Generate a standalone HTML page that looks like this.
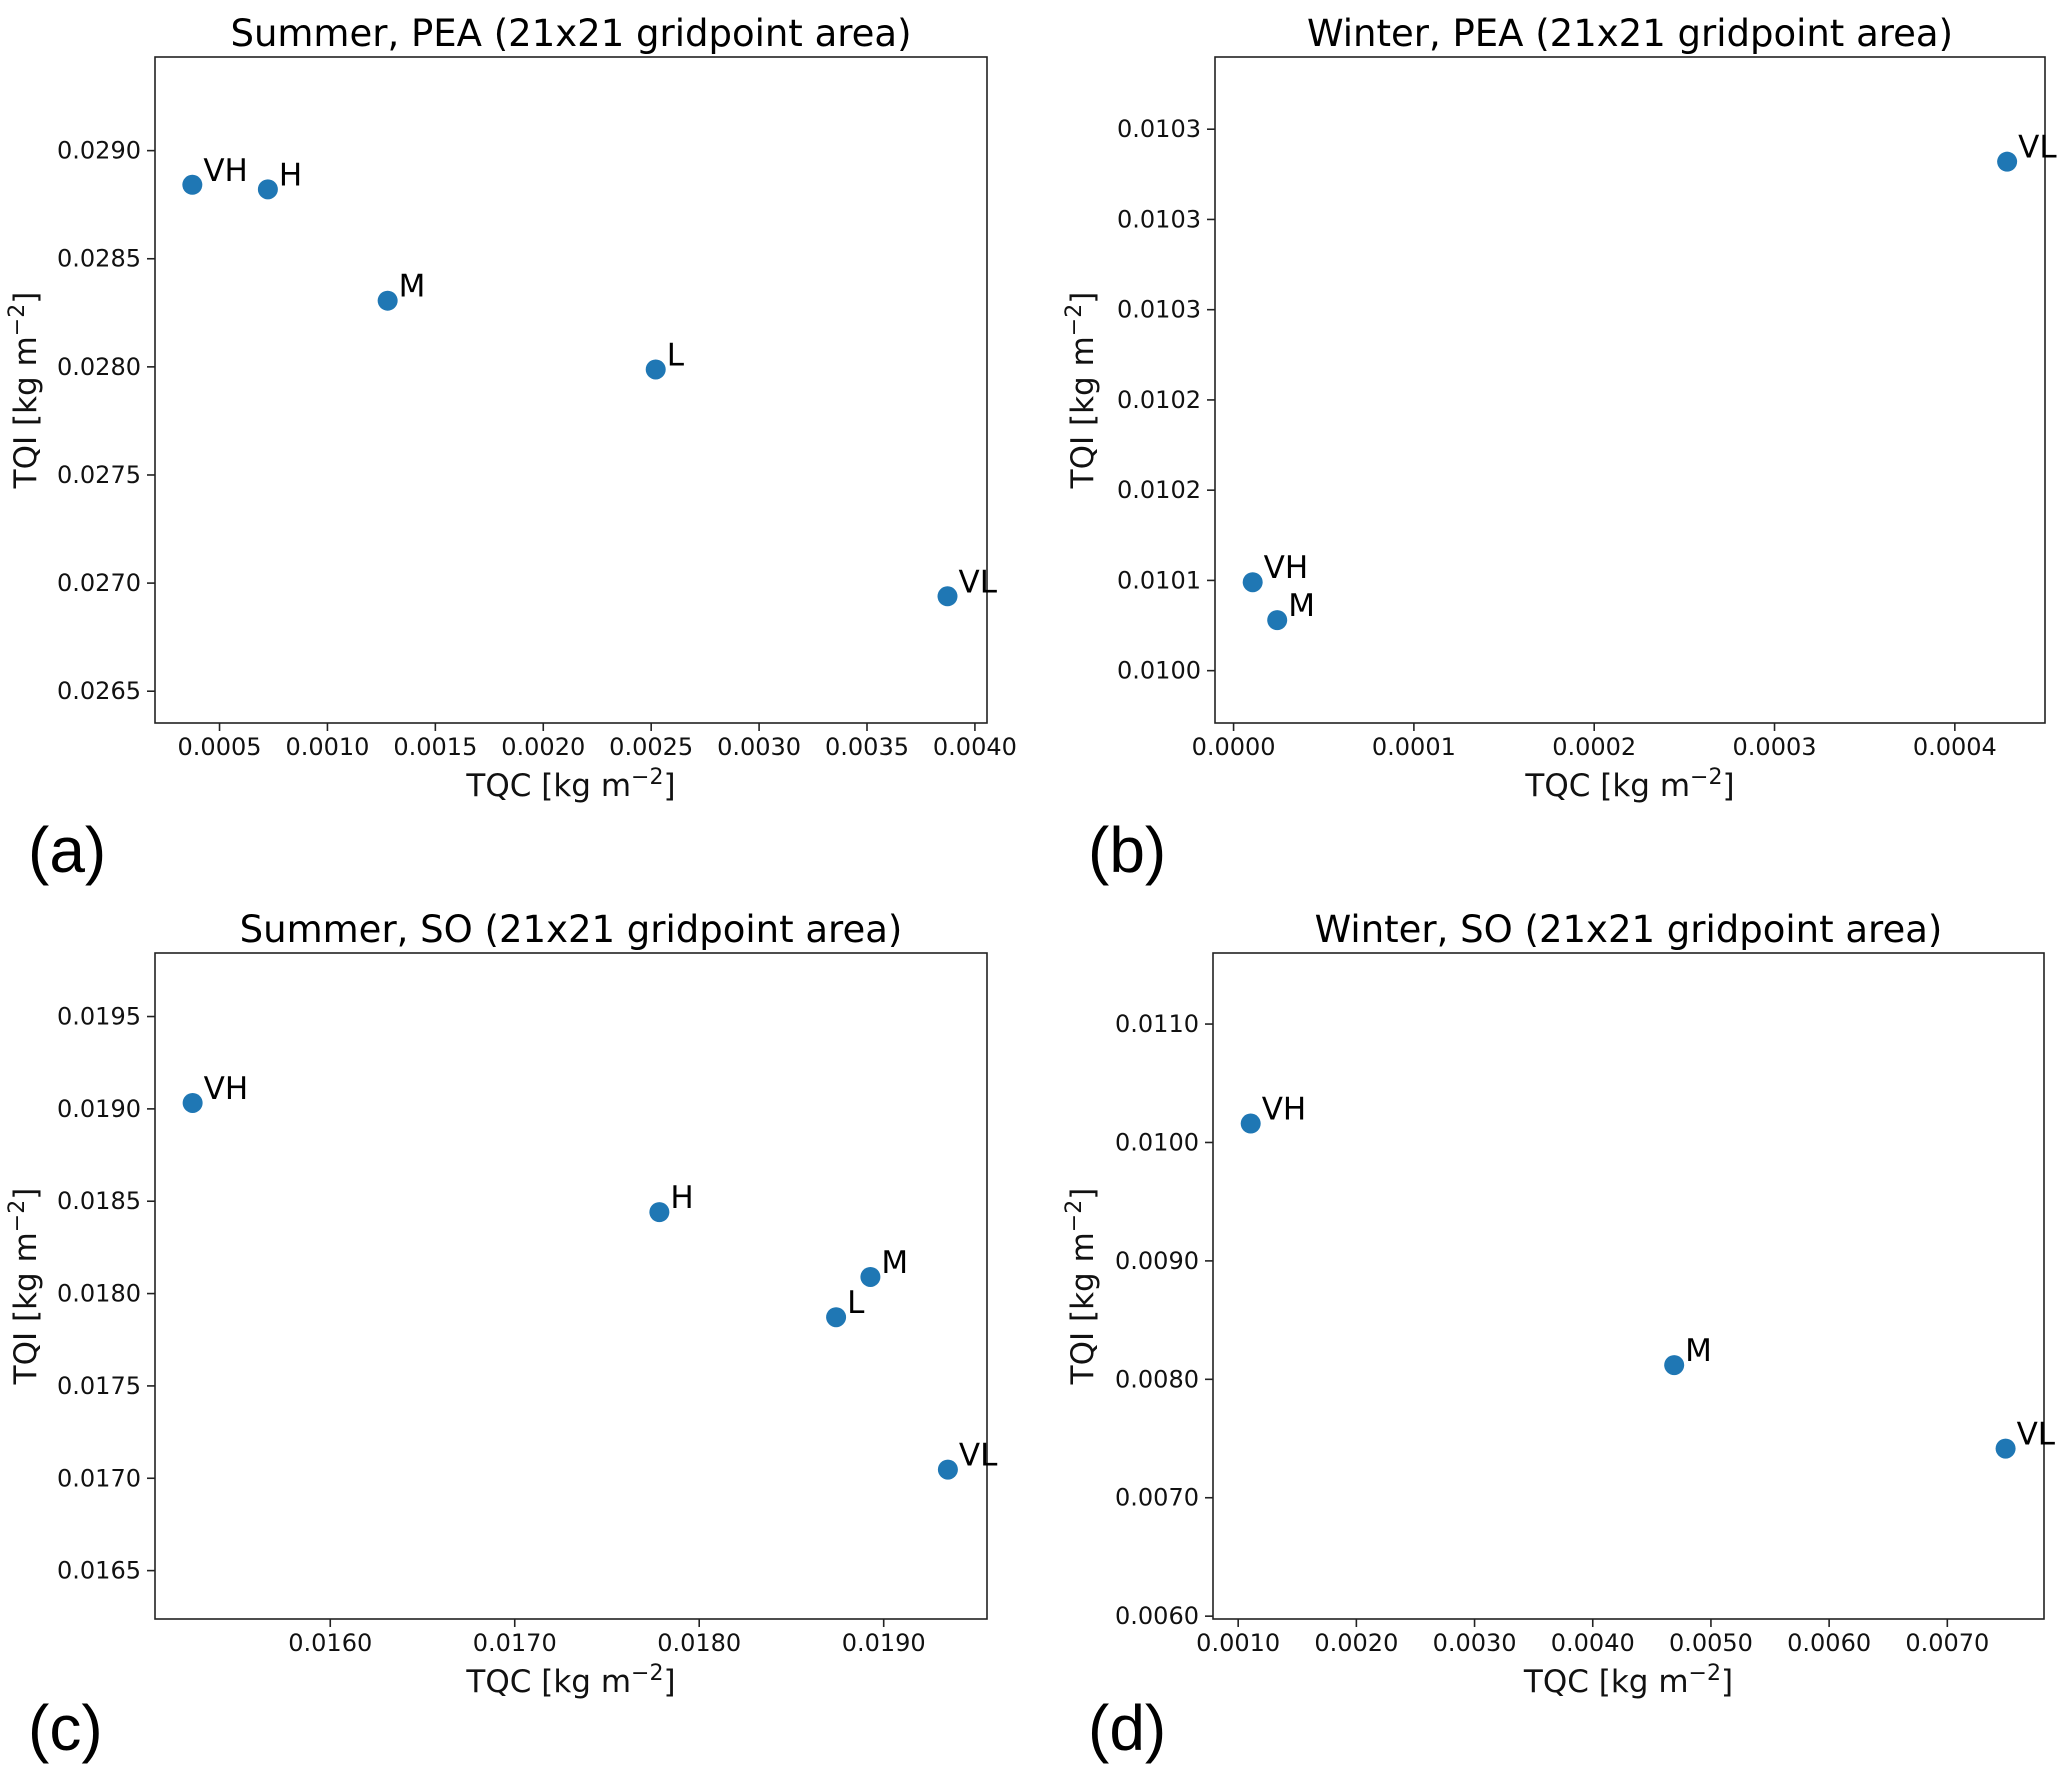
<!DOCTYPE html>
<html><head><meta charset="utf-8"><style>
html,body{margin:0;padding:0;background:#fff;}
svg{display:block;font-family:"DejaVu Sans","Liberation Sans",sans-serif;}
</style></head><body>
<svg id="fig" width="2067" height="1772" viewBox="0 0 2067 1772" xmlns="http://www.w3.org/2000/svg"></svg>
<script>
// ---- data ----
const aLabels = ["VH","H","M","L","VL"];
const aX = [0.000374,0.000724,0.001279,0.002521,0.003873];
const aY = [0.028842,0.028821,0.028306,0.027988,0.026939];
const aXTicks = [0.0005,0.0010,0.0015,0.0020,0.0025,0.0030,0.0035,0.0040];
const aXTickLabels = ["0.0005","0.0010","0.0015","0.0020","0.0025","0.0030","0.0035","0.0040"];
const aYTicks = [0.0265,0.0270,0.0275,0.0280,0.0285,0.0290];
const aYTickLabels = ["0.0265","0.0270","0.0275","0.0280","0.0285","0.0290"];
const aXLim = [0.000201,0.004056];
const aYLim = [0.026353,0.029433];

const bLabels = ["VH","M","VL"];
const bX = [0.0000106,0.0000242,0.000429];
const bY = [0.010049,0.010028,0.010282];
const bXTicks = [0,0.0001,0.0002,0.0003,0.0004];
const bXTickLabels = ["0.0000","0.0001","0.0002","0.0003","0.0004"];
const bYTicks = [0.01000,0.01005,0.01010,0.01015,0.01020,0.01025,0.01030];
const bYTickLabels = ["0.0100","0.0101","0.0102","0.0102","0.0103","0.0103","0.0103"];
const bXLim = [-0.0000103,0.00045];
const bYLim = [0.009971,0.010340];

const cLabels = ["VH","H","M","L","VL"];
const cX = [0.015254,0.017784,0.018928,0.018742,0.019348];
const cY = [0.019032,0.018441,0.018090,0.017872,0.017047];
const cXTicks = [0.016,0.017,0.018,0.019];
const cXTickLabels = ["0.0160","0.0170","0.0180","0.0190"];
const cYTicks = [0.0165,0.0170,0.0175,0.0180,0.0185,0.0190,0.0195];
const cYTickLabels = ["0.0165","0.0170","0.0175","0.0180","0.0185","0.0190","0.0195"];
const cXLim = [0.015050,0.019560];
const cYLim = [0.016238,0.019844];

const dLabels = ["VH","M","VL"];
const dX = [0.001106,0.004689,0.007493];
const dY = [0.010160,0.008120,0.007415];
const dXTicks = [0.001,0.002,0.003,0.004,0.005,0.006,0.007];
const dXTickLabels = ["0.0010","0.0020","0.0030","0.0040","0.0050","0.0060","0.0070"];
const dYTicks = [0.006,0.007,0.008,0.009,0.010,0.011];
const dYTickLabels = ["0.0060","0.0070","0.0080","0.0090","0.0100","0.0110"];
const dXLim = [0.000787,0.007818];
const dYLim = [0.005976,0.0116];

const NS = "http://www.w3.org/2000/svg";
const svg = document.getElementById("fig");
function mk(tag, attrs, parent){
  const e = document.createElementNS(NS, tag);
  for (const k in attrs) e.setAttribute(k, attrs[k]);
  (parent||svg).appendChild(e);
  return e;
}

function panel(id, box, title, letter, letterPos, ylabX, labels, xs, ys, xt, xtl, yt, ytl, xlim, ylim){
  const g = mk("g", {});
  
  
  const L=box[0], T=box[1], R=box[2], B=box[3];
  const sx = v => L + (v - xlim[0])/(xlim[1]-xlim[0])*(R-L);
  const sy = v => B - (v - ylim[0])/(ylim[1]-ylim[0])*(B-T);
  const t = mk("text", {x:(L+R)/2, y:T-11, "font-size":37, "text-anchor":"middle", fill:"#000"}, g);
  t.textContent = title;
  
  
  const frame = mk("rect", {x:L, y:T, width:R-L, height:B-T, fill:"none", stroke:"#222", "stroke-width":1.6}, g);
  
  
  for (let i=0;i<xt.length;i++){
    const x = sx(xt[i]);
    const tk = mk("line", {x1:x, x2:x, y1:B, y2:B+8, stroke:"#222", "stroke-width":1.6}, g);
    
    
    const tl = mk("text", {x:x, y:B+32, "font-size":24, "text-anchor":"middle", fill:"#111"}, g);
    tl.textContent = xtl[i];
    
    
  }
  for (let i=0;i<yt.length;i++){
    const y = sy(yt[i]);
    const tk = mk("line", {x1:L-8, x2:L, y1:y, y2:y, stroke:"#222", "stroke-width":1.6}, g);
    
    
    const tl = mk("text", {x:L-14, y:y+8, "font-size":24, "text-anchor":"end", fill:"#111"}, g);
    tl.textContent = ytl[i];
    
    
  }
  const xl = mk("text", {x:(L+R)/2, y:B+73, "font-size":31, "text-anchor":"middle", fill:"#111"}, g);
  xl.innerHTML = 'TQC [kg m<tspan dy="-12" font-size="22">−2</tspan><tspan dy="12">]</tspan>';
  
  
  const cy = (T+B)/2;
  const yl = mk("text", {x:0, y:0, "font-size":31, "text-anchor":"middle", fill:"#111", transform:"translate("+ylabX+","+cy+") rotate(-90)"}, g);
  yl.innerHTML = 'TQI [kg m<tspan dy="-12" font-size="22">−2</tspan><tspan dy="12">]</tspan>';
  
  
  for (let i=0;i<xs.length;i++){
    const px = sx(xs[i]), py = sy(ys[i]);
    const c = mk("circle", {cx:px, cy:py, r:10, fill:"#1f77b4"}, g);
    
    
    const pl = mk("text", {x:px+11, y:py-4, "font-size":31, fill:"#000"}, g);
    pl.textContent = labels[i];
    
    
  }
  const lt = mk("text", {x:letterPos[0], y:letterPos[1], "font-size":64, fill:"#000", "font-family":"Liberation Sans, sans-serif"}, g);
  lt.textContent = letter;
  
  
}

panel("a", [155,57,987,723], "Summer, PEA (21x21 gridpoint area)", "(a)", [28,872], 36,
  aLabels, aX, aY, aXTicks, aXTickLabels, aYTicks, aYTickLabels, aXLim, aYLim);
panel("b", [1215,57,2045,723], "Winter, PEA (21x21 gridpoint area)", "(b)", [1088,872], 1093,
  bLabels, bX, bY, bXTicks, bXTickLabels, bYTicks, bYTickLabels, bXLim, bYLim);
panel("c", [155,953,987,1619], "Summer, SO (21x21 gridpoint area)", "(c)", [28,1750], 36,
  cLabels, cX, cY, cXTicks, cXTickLabels, cYTicks, cYTickLabels, cXLim, cYLim);
panel("d", [1213,953,2044,1619], "Winter, SO (21x21 gridpoint area)", "(d)", [1088,1750], 1093,
  dLabels, dX, dY, dXTicks, dXTickLabels, dYTicks, dYTickLabels, dXLim, dYLim);
</script>
</body></html>
